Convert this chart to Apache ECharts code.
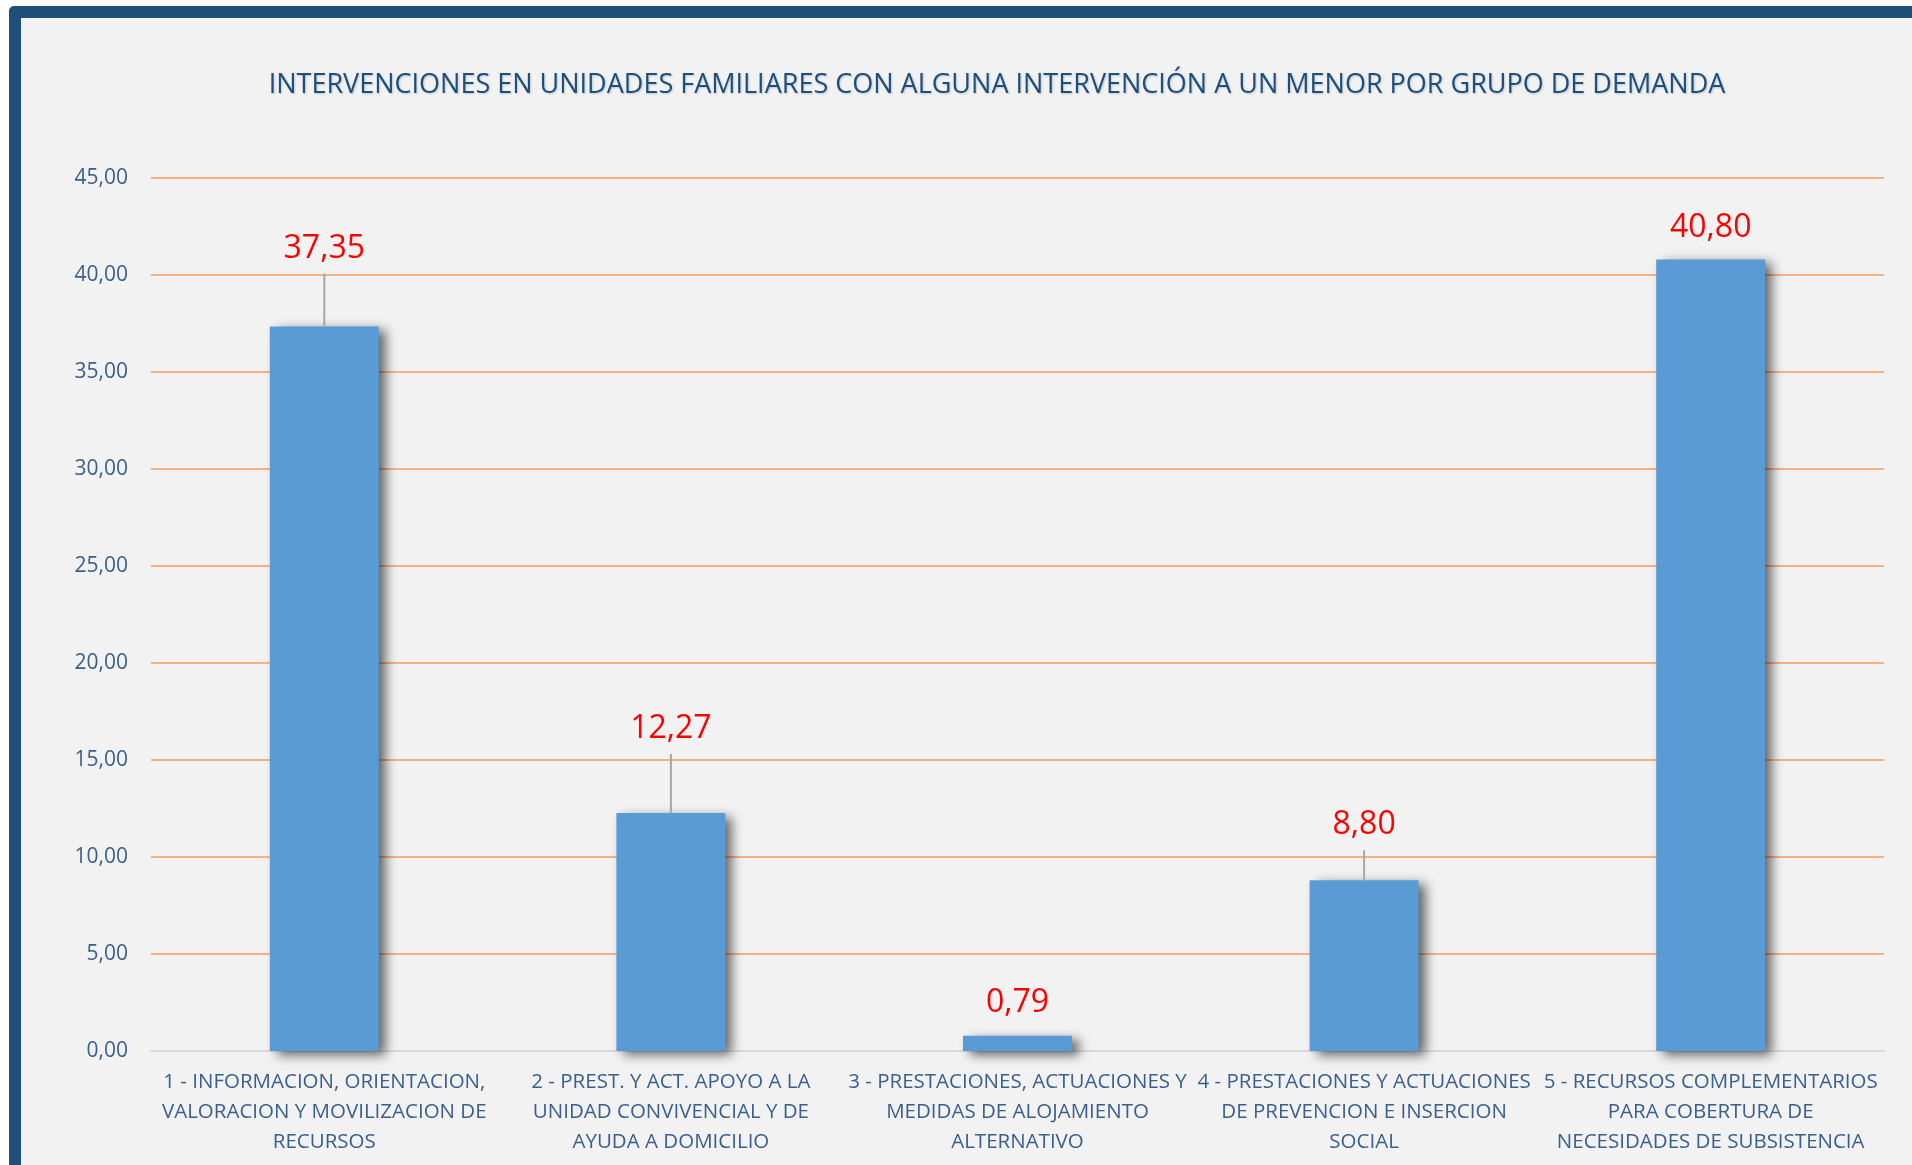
<!DOCTYPE html>
<html>
<head>
<meta charset="utf-8">
<script src="https://cdn.jsdelivr.net/npm/echarts@6/dist/echarts.min.js"></script>
<style>
  html, body { margin: 0; padding: 0; background: #ffffff; overflow: hidden; }
  #frame {
    position: absolute; left: 9px; top: 6px;
    width: 1912px; height: 1165px;
    border: 12px solid #1F4E79; border-radius: 5px;
    background: #F2F2F2;
  }
  #main { position: absolute; left: 0; top: 0; width: 1912px; height: 1165px; }
</style>
</head>
<body>
<div id="frame"></div>
<div id="main"></div>
<script>
var titleText = 'INTERVENCIONES EN UNIDADES FAMILIARES CON ALGUNA INTERVENCIÓN A UN MENOR POR GRUPO DE DEMANDA';

var categories = [
  '1 - INFORMACION, ORIENTACION,\nVALORACION Y MOVILIZACION DE\nRECURSOS',
  '2 - PREST. Y ACT. APOYO A LA\nUNIDAD CONVIVENCIAL Y DE\nAYUDA A DOMICILIO',
  '3 - PRESTACIONES, ACTUACIONES Y\nMEDIDAS DE ALOJAMIENTO\nALTERNATIVO',
  '4 - PRESTACIONES Y ACTUACIONES\nDE PREVENCION E INSERCION\nSOCIAL',
  '5 - RECURSOS COMPLEMENTARIOS\nPARA COBERTURA DE\nNECESIDADES DE SUBSISTENCIA'
];

var values = [37.35, 12.27, 0.79, 8.80, 40.80];

var yTicks = { min: 0, max: 45, interval: 5 };

// how far each red label sits above its bar (px), moved by hand like in excel
var labelLift = [79, 85, 34, 56, 33];

function fmt(v) {
  return v.toFixed(2).replace('.', ',');
}

var chart = echarts.init(document.getElementById('main'), null, { renderer: 'canvas' });

chart.setOption({
  backgroundColor: 'transparent',
  animation: false,
  title: {
    text: titleText,
    left: 997,
    top: 72,
    padding: 0,
    textAlign: 'center',
    textStyle: {
      fontFamily: 'Open Sans',
      fontSize: 27,
      fontWeight: 'normal',
      color: '#1F4E79',
      textShadowColor: 'rgba(31,78,121,0.25)',
      textShadowBlur: 2,
      textShadowOffsetX: 1,
      textShadowOffsetY: 1
    }
  },
  grid: {
    left: 151,
    right: 28,
    top: 178,
    bottom: 114,
    containLabel: false
  },
  xAxis: {
    type: 'category',
    data: categories,
    axisLine: { lineStyle: { color: '#D9D9D9', width: 2 } },
    axisTick: { show: false },
    axisLabel: {
      interval: 0,
      margin: 16,
      fontFamily: 'Open Sans',
      fontSize: 20.5,
      lineHeight: 30,
      color: '#3B5F8C',
      align: 'center'
    }
  },
  yAxis: {
    type: 'value',
    min: yTicks.min,
    max: yTicks.max,
    interval: yTicks.interval,
    axisLine: { show: false },
    axisTick: { show: false },
    splitLine: { lineStyle: { color: '#F4B183', width: 2 } },
    axisLabel: {
      margin: 23,
      fontFamily: 'Open Sans',
      fontSize: 21,
      color: '#3B5F8C',
      formatter: function (v) { return fmt(v); }
    }
  },
  series: [
    {
      type: 'bar',
      data: values,
      barWidth: 109,
      itemStyle: {
        color: '#5B9BD5',
        shadowColor: 'rgba(0,0,0,0.6)',
        shadowBlur: 11,
        shadowOffsetX: 7,
        shadowOffsetY: 4
      },
      z: 2
    },
    {
      // red value labels with grey leader lines
      type: 'custom',
      data: values.map(function (v, i) { return [i, v]; }),
      encode: { x: 0, y: 1 },
      z: 5,
      silent: true,
      renderItem: function (params, api) {
        var i = api.value(0);
        var pt = api.coord([i, api.value(1)]);
        var lift = labelLift[i];
        var cy = pt[1] - lift;
        var children = [{
          type: 'text',
          style: {
            text: fmt(api.value(1)),
            x: pt[0],
            y: cy + 1,
            align: 'center',
            verticalAlign: 'middle',
            font: '32px "Open Sans"',
            fill: '#FF0000'
          }
        }];
        if (lift > 45) {
          children.push({
            type: 'line',
            shape: { x1: pt[0], y1: cy + 26, x2: pt[0], y2: pt[1] },
            style: { stroke: '#A6A6A6', lineWidth: 2 }
          });
        }
        return { type: 'group', children: children };
      }
    }
  ]
});
</script>
</body>
</html>
